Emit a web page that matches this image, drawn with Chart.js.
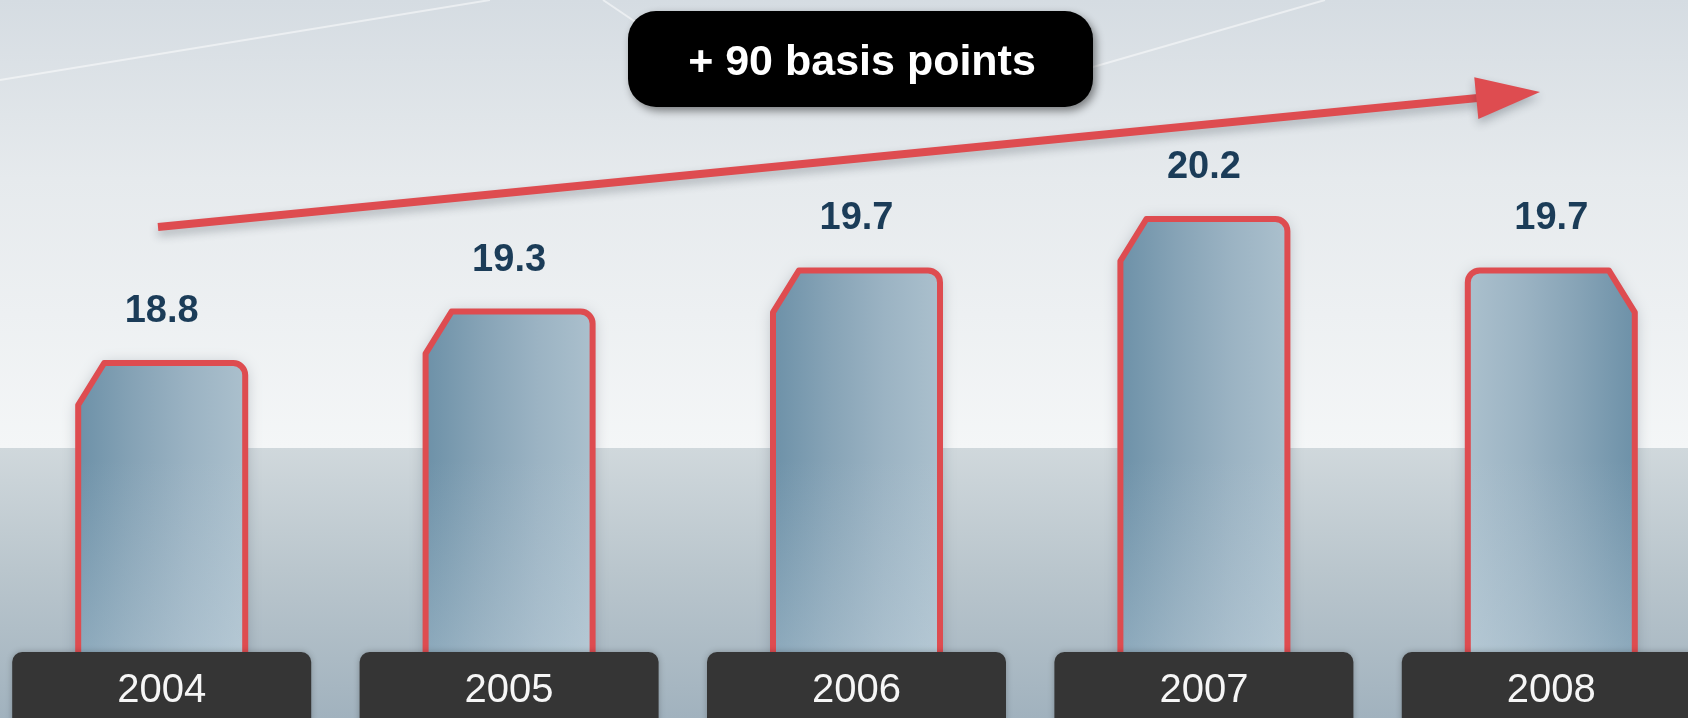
<!DOCTYPE html>
<html>
<head>
<meta charset="utf-8">
<script src="https://cdn.jsdelivr.net/npm/chart.js@4.4.1/dist/chart.umd.min.js"></script>
<style>
  html, body { margin: 0; padding: 0; width: 1688px; height: 718px; overflow: hidden; background: #e3e8eb; }
  #wrap { position: absolute; left: -12px; top: 0; width: 1737px; height: 718px; }
</style>
</head>
<body>
<div id="wrap"><canvas id="chart"></canvas></div>
<script>
const years = ['2004', '2005', '2006', '2007', '2008'];
const shareValues = [18.8, 19.3, 19.7, 20.2, 19.7];
const axisRange = [15.32, 22.3];
const badgeText = '+ 90 basis points';

// canvas starts 12px left of the page, annotations below are in page coords
const PAGE_OFFSET = 12;
const RED = '#de4c50';
const FONT = '"Liberation Sans", Arial, sans-serif';

function roundRect(ctx, x, y, w, h, r) {
  ctx.beginPath();
  ctx.moveTo(x + r, y);
  ctx.arcTo(x + w, y, x + w, y + h, r);
  ctx.arcTo(x + w, y + h, x, y + h, r);
  ctx.arcTo(x, y + h, x, y, r);
  ctx.arcTo(x, y, x + w, y, r);
  ctx.closePath();
}

function barPath(ctx, l, r, t, b, mirror) {
  const ch = 26, cv = 42, rad = 12;
  ctx.beginPath();
  if (!mirror) {
    ctx.moveTo(l, b);
    ctx.lineTo(l, t + cv);
    ctx.lineTo(l + ch, t);
    ctx.arcTo(r, t, r, t + rad, rad);
    ctx.lineTo(r, b);
  } else {
    ctx.moveTo(r, b);
    ctx.lineTo(r, t + cv);
    ctx.lineTo(r - ch, t);
    ctx.arcTo(l, t, l, t + rad, rad);
    ctx.lineTo(l, b);
  }
}

const backdrop = {
  id: 'backdrop',
  beforeDraw(chart) {
    const ctx = chart.ctx;
    const w = chart.width, h = chart.height;
    const split = 448;
    ctx.save();
    let g = ctx.createLinearGradient(0, 0, 0, split);
    g.addColorStop(0, '#d5dce2');
    g.addColorStop(0.4, '#e6eaed');
    g.addColorStop(1, '#f4f6f7');
    ctx.fillStyle = g;
    ctx.fillRect(0, 0, w, split);
    g = ctx.createLinearGradient(0, split, 0, h);
    g.addColorStop(0, '#d0d8dc');
    g.addColorStop(0.45, '#bac6cd');
    g.addColorStop(1, '#a1b2be');
    ctx.fillStyle = g;
    ctx.fillRect(0, split, w, h - split);

    // faint white streaks
    ctx.translate(PAGE_OFFSET, 0);
    ctx.strokeStyle = 'rgba(255,255,255,0.5)';
    ctx.lineWidth = 2;
    [[0, 80, 490, 0], [603, 0, 640, 25], [1093, 67, 1325, 0]].forEach(([x1, y1, x2, y2]) => {
      ctx.beginPath();
      ctx.moveTo(x1, y1);
      ctx.lineTo(x2, y2);
      ctx.stroke();
    });
    ctx.restore();
  }
};

const fancyBars = {
  id: 'fancyBars',
  afterDatasetsDraw(chart) {
    const ctx = chart.ctx;
    const meta = chart.getDatasetMeta(0);
    const lw = 6;
    meta.data.forEach((el, i) => {
      const mirror = i === meta.data.length - 1;
      const l = el.x - el.width / 2 + lw / 2;
      const r = el.x + el.width / 2 - lw / 2;
      const t = el.y + lw / 2;
      const b = el.base + 10;

      const fill = ctx.createLinearGradient(l, 0, r, 0);
      const stops = ['#6d91a8', '#86a3b6', '#9bb3c3', '#abc0cd'];
      const cols = mirror ? stops.slice().reverse() : stops;
      cols.forEach((c, k) => fill.addColorStop(k / (cols.length - 1), c));

      ctx.save();
      barPath(ctx, l, r, t, b, mirror);
      ctx.closePath();
      ctx.shadowColor = 'rgba(50,65,80,0.35)';
      ctx.shadowBlur = 16;
      ctx.shadowOffsetY = 2;
      ctx.fillStyle = fill;
      ctx.fill();
      ctx.shadowColor = 'transparent';

      const wash = ctx.createLinearGradient(0, 460, 0, 660);
      wash.addColorStop(0, 'rgba(200,215,225,0)');
      wash.addColorStop(1, 'rgba(200,215,225,0.35)');
      ctx.fillStyle = wash;
      ctx.fill();

      barPath(ctx, l, r, t, b, mirror);
      ctx.lineJoin = 'round';
      ctx.lineWidth = lw;
      ctx.strokeStyle = RED;
      ctx.stroke();

      // value label
      ctx.font = 'bold 38px ' + FONT;
      ctx.fillStyle = '#1b3c58';
      ctx.textAlign = 'center';
      ctx.textBaseline = 'alphabetic';
      ctx.fillText(shareValues[i].toFixed(1), el.x, el.y - 38);
      ctx.restore();
    });
  },
  afterDraw(chart) {
    const ctx = chart.ctx;
    const xs = chart.scales.x;

    // year tabs along the bottom
    years.forEach((yr, i) => {
      const cx = xs.getPixelForValue(i);
      ctx.save();
      ctx.shadowColor = 'rgba(0,0,0,0.25)';
      ctx.shadowBlur = 6;
      roundRect(ctx, cx - 149.5, 652, 299, 90, 10);
      ctx.fillStyle = '#353535';
      ctx.fill();
      ctx.shadowColor = 'transparent';
      ctx.font = '40px ' + FONT;
      ctx.fillStyle = '#f6f6f6';
      ctx.textAlign = 'center';
      ctx.textBaseline = 'alphabetic';
      ctx.fillText(yr, cx, 702);
      ctx.restore();
    });

    ctx.save();
    ctx.translate(PAGE_OFFSET, 0);

    // trend arrow
    const sx = 158, sy = 227, tx = 1540, ty = 92;
    const len = Math.hypot(tx - sx, ty - sy);
    const ux = (tx - sx) / len, uy = (ty - sy) / len;
    const head = 64, half = 21;
    const bx = tx - ux * head, by = ty - uy * head;
    ctx.shadowColor = 'rgba(40,50,60,0.3)';
    ctx.shadowBlur = 10;
    ctx.shadowOffsetY = 5;
    ctx.strokeStyle = RED;
    ctx.lineWidth = 8;
    ctx.beginPath();
    ctx.moveTo(sx, sy);
    ctx.lineTo(bx + ux * 4, by + uy * 4);
    ctx.stroke();
    ctx.fillStyle = RED;
    ctx.beginPath();
    ctx.moveTo(tx, ty);
    ctx.lineTo(bx - uy * half, by + ux * half);
    ctx.lineTo(bx + uy * half, by - ux * half);
    ctx.closePath();
    ctx.fill();

    // badge
    ctx.shadowColor = 'rgba(0,0,0,0.45)';
    ctx.shadowBlur = 8;
    ctx.shadowOffsetX = 3;
    ctx.shadowOffsetY = 4;
    roundRect(ctx, 628, 11, 465, 96, 28);
    ctx.fillStyle = '#000';
    ctx.fill();
    ctx.shadowColor = 'transparent';
    ctx.font = 'bold 43px ' + FONT;
    ctx.fillStyle = '#fff';
    ctx.textAlign = 'center';
    ctx.textBaseline = 'alphabetic';
    ctx.fillText(badgeText, 862, 75);
    ctx.restore();
  }
};

new Chart(document.getElementById('chart'), {
  type: 'bar',
  data: {
    labels: years,
    datasets: [{
      data: shareValues,
      backgroundColor: 'rgba(0,0,0,0)',
      borderWidth: 0,
      barPercentage: 1,
      categoryPercentage: 0.498
    }]
  },
  options: {
    responsive: true,
    maintainAspectRatio: false,
    animation: false,
    layout: { padding: 0 },
    plugins: { legend: { display: false }, tooltip: { enabled: false } },
    scales: {
      x: { display: false },
      y: { display: false, min: axisRange[0], max: axisRange[1] }
    }
  },
  plugins: [backdrop, fancyBars]
});
</script>
</body>
</html>
